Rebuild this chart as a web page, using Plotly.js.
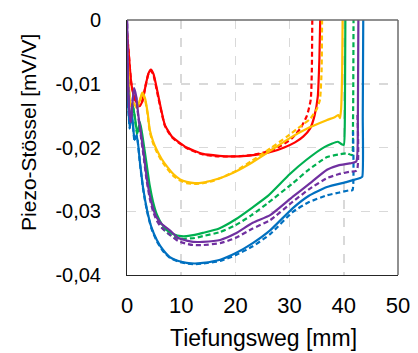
<!DOCTYPE html>
<html>
<head>
<meta charset="utf-8">
<script src="https://cdn.plot.ly/plotly-3.0.1.min.js"></script>
<style>html,body{margin:0;padding:0;background:#fff;}#chart{width:418px;height:353px;}</style>
</head>
<body>
<div id="chart"></div>
<script>
// ---- data ----
const redSolidX = [0, 0.3, 0.8, 1.5, 2.3, 2.8, 3.5, 4.0, 4.4, 4.9, 5.8, 7, 8.3, 11, 14, 17, 19, 22, 25, 27, 29, 31, 32.5, 33.8, 34.6, 35.2, 35.5, 35.7];
const redSolidY = [-0.002, -0.005, -0.010, -0.0125, -0.0135, -0.0128, -0.0100, -0.0083, -0.0078, -0.0085, -0.0120, -0.0165, -0.0183, -0.0200, -0.0210, -0.0213, -0.0214, -0.0213, -0.0210, -0.0206, -0.0200, -0.0192, -0.0183, -0.0170, -0.0150, -0.0120, -0.0060, 0.002];
const redDashX = [0, 0.3, 0.8, 1.5, 2.3, 2.8, 3.5, 4.0, 4.4, 4.9, 5.8, 7, 8.3, 11, 14, 17, 20, 23, 26, 28.5, 30.5, 32, 33.2, 33.9, 34.1, 34.2];
const redDashY = [-0.002, -0.005, -0.010, -0.0125, -0.0135, -0.0128, -0.0100, -0.0083, -0.0079, -0.0087, -0.0123, -0.0166, -0.0184, -0.0201, -0.0211, -0.0214, -0.0214, -0.0212, -0.0206, -0.0197, -0.0185, -0.0170, -0.0150, -0.0125, -0.0080, 0.002];

const yelSolidX = [0, 0.3, 0.7, 1.2, 1.8, 2.4, 2.8, 3.3, 3.8, 4.2, 4.8, 5.5, 6.4, 7.4, 8.6, 9.8, 11, 12.5, 14, 16, 17.5, 20, 23, 26.5, 29.5, 33.8, 36.9, 38.4, 39.0, 39.3, 39.5, 39.7, 39.8];
const yelSolidY = [-0.004, -0.009, -0.0135, -0.013, -0.0138, -0.0125, -0.0114, -0.0122, -0.0145, -0.0172, -0.019, -0.0204, -0.0218, -0.023, -0.0242, -0.025, -0.0254, -0.0256, -0.0255, -0.0251, -0.0247, -0.0238, -0.0224, -0.0205, -0.0188, -0.0168, -0.0157, -0.0152, -0.0149, -0.0154, -0.0140, -0.0080, 0.002];
const yelDashX = [0, 0.3, 0.7, 1.2, 1.8, 2.4, 2.8, 3.3, 3.8, 4.2, 4.8, 5.5, 6.4, 7.4, 8.6, 9.8, 11, 12.5, 14, 16, 17.5, 20, 23, 26.5, 29.5, 31.5, 33.8, 35, 35.6, 35.9, 36.0];
const yelDashY = [-0.005, -0.010, -0.0135, -0.013, -0.0138, -0.0126, -0.0116, -0.0124, -0.0148, -0.0175, -0.0193, -0.0207, -0.0221, -0.0233, -0.0245, -0.0252, -0.0256, -0.0257, -0.0256, -0.0252, -0.0247, -0.0237, -0.0221, -0.0201, -0.0183, -0.0170, -0.0155, -0.0140, -0.0125, -0.0080, 0.002];

const grnSolidX = [0, 0.3, 0.7, 1.1, 1.5, 1.9, 2.4, 3.0, 3.6, 4.2, 4.8, 5.5, 6.4, 7.4, 8.6, 10, 11, 12.5, 14, 17, 20, 23, 26, 30, 33, 36.5, 38.9, 39.6, 40.0, 40.2, 40.3];
const grnSolidY = [-0.006, -0.013, -0.016, -0.0135, -0.0155, -0.0178, -0.016, -0.019, -0.0225, -0.026, -0.0285, -0.0305, -0.032, -0.033, -0.0336, -0.0339, -0.0339, -0.0337, -0.0334, -0.0327, -0.0313, -0.0295, -0.0276, -0.0242, -0.0220, -0.0199, -0.0191, -0.0195, -0.0196, -0.0150, 0.002];
const grnDashX = [0, 0.3, 0.7, 1.1, 1.5, 1.9, 2.4, 3.0, 3.6, 4.2, 4.8, 5.5, 6.4, 7.4, 8.6, 10, 11, 12.5, 14, 17, 20, 23, 26, 30.6, 33.5, 36.9, 39, 40.6, 41.5, 41.7, 41.8];
const grnDashY = [-0.006, -0.013, -0.016, -0.0135, -0.0158, -0.018, -0.0165, -0.020, -0.0235, -0.027, -0.0293, -0.0311, -0.0325, -0.0334, -0.034, -0.0343, -0.0343, -0.0342, -0.0339, -0.0333, -0.0322, -0.0306, -0.0287, -0.0256, -0.0235, -0.0215, -0.0211, -0.0209, -0.0212, -0.0160, 0.002];

const purSolidX = [0, 0.15, 0.4, 0.7, 1.0, 1.3, 1.7, 2.1, 2.6, 3.0, 3.6, 4.2, 4.8, 5.5, 6.4, 7.9, 9.5, 11, 12.2, 14, 17.2, 20, 23.2, 26.4, 30.6, 33.5, 36.9, 39, 41.1, 42.3, 42.6, 42.7];
const purSolidY = [0.002, -0.008, -0.014, -0.016, -0.013, -0.0107, -0.012, -0.015, -0.018, -0.0204, -0.0245, -0.0275, -0.0295, -0.031, -0.032, -0.033, -0.0342, -0.0346, -0.0348, -0.0348, -0.0345, -0.0335, -0.0318, -0.0306, -0.0277, -0.0258, -0.0235, -0.0228, -0.0225, -0.0222, -0.0150, 0.002];
const purDashX = [0, 0.15, 0.4, 0.7, 1.0, 1.3, 1.7, 2.1, 2.6, 3.0, 3.6, 4.2, 4.8, 5.5, 6.4, 7.9, 9.5, 11, 12.2, 14, 17.2, 20, 23.2, 26.4, 30.6, 33.5, 36.9, 39, 41.1, 42.4, 42.5];
const purDashY = [0.002, -0.008, -0.014, -0.016, -0.013, -0.011, -0.0122, -0.0153, -0.0185, -0.021, -0.025, -0.028, -0.030, -0.0315, -0.0326, -0.0337, -0.0347, -0.0351, -0.0353, -0.0353, -0.035, -0.0342, -0.0327, -0.0314, -0.0285, -0.0266, -0.0248, -0.0242, -0.0238, -0.0236, -0.0145];

const bluSolidX = [0, 0.2, 0.5, 0.8, 1.1, 1.4, 1.8, 2.4, 3.0, 3.7, 4.5, 5.5, 6.6, 7.9, 9.5, 11, 12.5, 14, 17.2, 20, 23.2, 26.4, 30.6, 33.5, 36.9, 40.6, 43, 43.4, 43.5, 43.6];
const bluSolidY = [-0.008, -0.013, -0.017, -0.0145, -0.0165, -0.0188, -0.018, -0.0224, -0.0265, -0.0298, -0.0325, -0.0345, -0.036, -0.0372, -0.0378, -0.0381, -0.0382, -0.0381, -0.0376, -0.0366, -0.035, -0.033, -0.0295, -0.0276, -0.0262, -0.0254, -0.0248, -0.0246, -0.0150, 0.002];
const bluDashX = [0, 0.2, 0.5, 0.8, 1.1, 1.4, 1.8, 2.4, 3.0, 3.7, 4.5, 5.5, 6.6, 7.9, 9.5, 11, 12.5, 14, 17.2, 20, 23.2, 26.4, 30.6, 33.5, 36.9, 39, 41.1, 41.6, 41.7];
const bluDashY = [-0.008, -0.013, -0.017, -0.0145, -0.0166, -0.019, -0.0182, -0.0226, -0.0267, -0.030, -0.0327, -0.0347, -0.0362, -0.0373, -0.0379, -0.0382, -0.0383, -0.0382, -0.0378, -0.0369, -0.0355, -0.0336, -0.0301, -0.0286, -0.0275, -0.0271, -0.0267, -0.0267, -0.0175];

const yTickVals = [0, -0.01, -0.02, -0.03, -0.04];
const yTickText = ['0', '-0,01', '-0,02', '-0,03', '-0,04'];
const xTickVals = [0, 10, 20, 30, 40, 50];

const RED = '#FF0000', YEL = '#FFC000', GRN = '#00B050', PUR = '#7030A0', BLU = '#0070C0';
const DASH = '5px,3px';

function tr(x, y, color, dashed) {
  return {x: x, y: y, type: 'scatter', mode: 'lines', hoverinfo: 'skip',
    line: {color: color, width: 2.2, dash: dashed ? DASH : 'solid', shape: 'spline', smoothing: 0.5}};
}

const data = [
  tr(redDashX, redDashY, RED, true), tr(redSolidX, redSolidY, RED, false),
  tr(yelDashX, yelDashY, YEL, true), tr(yelSolidX, yelSolidY, YEL, false),
  tr(grnDashX, grnDashY, GRN, true), tr(grnSolidX, grnSolidY, GRN, false),
  tr(bluDashX, bluDashY, BLU, true), tr(bluSolidX, bluSolidY, BLU, false),
  tr(purDashX, purDashY, PUR, true), tr(purSolidX, purSolidY, PUR, false)
];

const FONT = 'Liberation Sans, Arial, sans-serif';
const layout = {
  width: 418, height: 353,
  margin: {l: 127, r: 20, t: 20, b: 78},
  paper_bgcolor: '#fff', plot_bgcolor: '#fff',
  showlegend: false,
  font: {family: FONT, size: 20, color: '#000'},
  xaxis: {
    range: [0, 50], tickvals: xTickVals, ticktext: xTickVals.map(String),
    showgrid: true, gridcolor: '#D9D9D9', gridwidth: 1.5, griddash: 'dash',
    zeroline: false, showline: true, linecolor: '#262626', linewidth: 1,
    ticks: '', ticklabelstandoff: 11, tickfont: {family: FONT, size: 22, color: '#000'}
  },
  yaxis: {
    range: [-0.04, 0], tickvals: yTickVals, ticktext: yTickText,
    showgrid: true, gridcolor: '#D9D9D9', gridwidth: 1.5, griddash: 'dash',
    zeroline: false, showline: true, linecolor: '#262626', linewidth: 1,
    ticks: '', ticklabelstandoff: 21, tickfont: {family: FONT, size: 20, color: '#000'}
  },
  shapes: [
    {type: 'line', xref: 'paper', yref: 'paper', x0: 0, x1: 1, y0: 1, y1: 1, line: {color: '#6b6b6b', width: 1.5}},
    {type: 'line', xref: 'paper', yref: 'paper', x0: 1, x1: 1, y0: 0, y1: 1, line: {color: '#6b6b6b', width: 1.5}}
  ],
  annotations: [
    {text: 'Piezo-Stössel [mV/V]', xref: 'paper', yref: 'paper', x: -0.3616, y: 0.557,
     xanchor: 'center', yanchor: 'middle', textangle: -90, showarrow: false,
     font: {family: FONT, size: 21, color: '#000'}},
    {text: 'Tiefungsweg [mm]', xref: 'paper', yref: 'paper', x: 0.5055, y: -0.247,
     xanchor: 'center', yanchor: 'middle', showarrow: false,
     font: {family: FONT, size: 23, color: '#000'}}
  ]
};

Plotly.newPlot('chart', data, layout, {displayModeBar: false, staticPlot: true});
</script>
</body>
</html>
